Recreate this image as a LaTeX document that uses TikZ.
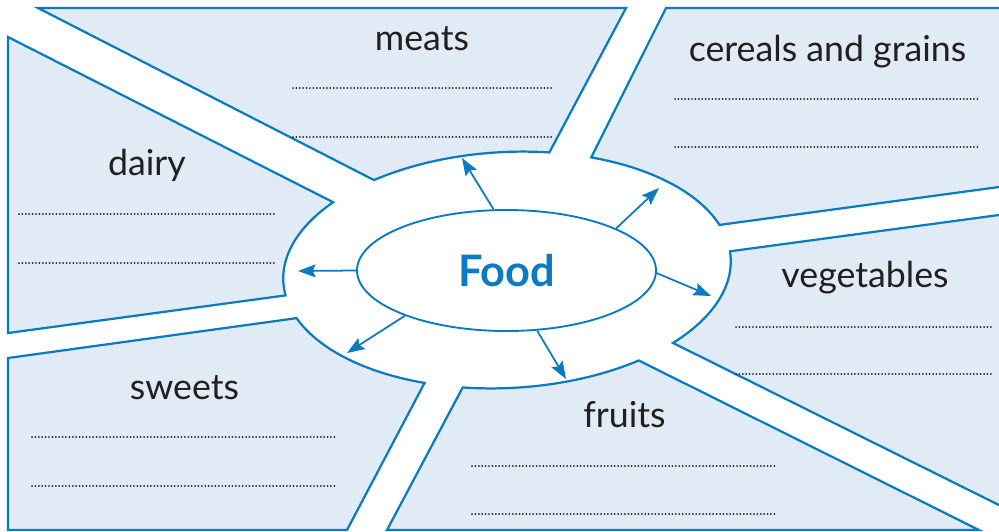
\documentclass[tikz,border=0pt]{standalone}
\usepackage{fontspec}
\setmainfont{Lato}
\usetikzlibrary{arrows.meta,shapes.geometric}
\definecolor{foodblue}{RGB}{10,122,195}
\definecolor{panelblue}{RGB}{225,235,246}
\definecolor{inkgrey}{RGB}{35,31,32}
\def\groupsize{\fontsize{30.5}{34}\selectfont}
% outer ring: centre, radii, tilt (cos, sin of 3 degrees)
\def\rcx{507}\def\rcy{270}\def\rra{224}\def\rrb{118}\def\rcp{0.99863}\def\rsp{0.05234}
\def\ringx#1{\rcx+\rra*cos(#1)*\rcp+\rrb*sin(#1)*\rsp}
\def\ringy#1{\rcy-\rra*cos(#1)*\rsp+\rrb*sin(#1)*\rcp}
\tikzset{
	panel/.style={fill=panelblue, draw=foodblue, line width=1.9pt, line join=miter},
	dotline/.style={draw=inkgrey, line width=1.7pt, line cap=round, dash pattern=on 0pt off 2.9pt},
	spoke/.style={draw=foodblue, line width=1.5pt, -{Stealth[length=15pt,width=11pt,inset=2.5pt]}},
	grouptext/.style={text=inkgrey, anchor=base, inner sep=0pt, font=\groupsize}
}

\begin{document}
\begin{tikzpicture}[x=0.3mm,y=-0.3mm]
			%%%%% START %%%%%
			\useasboundingbox (0,0) rectangle (999,531);
			\clip (0,0) rectangle (999,531);
			
			% panels
			\draw[panel] (38,8) -- (626,8) -- plot[domain=-77.5:-124.9, samples=30, variable=\t] ({\ringx{\t}},{\ringy{\t}}) -- cycle;
			\draw[panel] (666,8) -- (1010,8) -- (1010,185.5) -- plot[domain=-16.7:-66.3, samples=30, variable=\t] ({\ringx{\t}},{\ringy{\t}}) -- cycle;
			\draw[panel] (1010,213.5) -- (1010,510.5) -- plot[domain=43.7:-3.4, samples=30, variable=\t] ({\ringx{\t}},{\ringy{\t}}) -- cycle;
			\draw[panel] (979,530) -- (387,530) -- plot[domain=103:55.5, samples=30, variable=\t] ({\ringx{\t}},{\ringy{\t}}) -- cycle;
			\draw[panel] (347,530) -- (8,530) -- (8,358) -- plot[domain=161.7:113.2, samples=30, variable=\t] ({\ringx{\t}},{\ringy{\t}}) -- cycle;
			\draw[panel] (8,37) -- plot[domain=220.6:173.3, samples=30, variable=\t] ({\ringx{\t}},{\ringy{\t}}) -- (8,333) -- cycle;
			
			% headings
			\node[grouptext] (meats) at (422,50) {meats};
			\node[grouptext] (cereals) at (827.5,61) {cereals and grains};
			\node[grouptext] (dairy) at (147,175) {dairy};
			\node[grouptext] (vegetables) at (865,287) {vegetables};
			\node[grouptext] (sweets) at (184.5,399) {sweets};
			\node[grouptext] (fruits) at (624.5,427) {fruits};
			
			% writing lines
			\draw[dotline] (293,88) -- (552,88);
			\draw[dotline] (293,137) -- (552,137);
			\draw[dotline] (675,99) -- (980,99);
			\draw[dotline] (675,147) -- (980,147);
			\draw[dotline] (19,214) -- (277,214);
			\draw[dotline] (19,263) -- (277,263);
			\draw[dotline] (736,327) -- (993,327);
			\draw[dotline] (736,374) -- (993,374);
			\draw[dotline] (32,437) -- (337,437);
			\draw[dotline] (32,486) -- (337,486);
			\draw[dotline] (472,466) -- (777,466);
			\draw[dotline] (472,514) -- (777,514);
			
			% centre
			\node[ellipse, draw=foodblue, line width=1.6pt, minimum width=89.7mm, minimum height=36.3mm, inner sep=0pt, text=foodblue, font=\fontsize{37}{42}\selectfont\bfseries] (food) at (506.5,270.5) {Food};
			
			\coordinate (tipmeats) at (462,158);
			\coordinate (tipcereals) at (659,188);
			\coordinate (tipvegetables) at (711,296);
			\coordinate (tipfruits) at (566,379);
			\coordinate (tipsweets) at (347,353);
			\coordinate (tipdairy) at (298,271);
			
			\draw[spoke] (food.102.6) -- (tipmeats);
			\draw[spoke] (food.21.4) -- (tipcereals);
			\draw[spoke] (food.-1) -- (tipvegetables);
			\draw[spoke] (food.-63.2) -- (tipfruits);
			\draw[spoke] (food.204.6) -- (tipsweets);
			\draw[spoke] (food.180) -- (tipdairy);
			%%%%% END %%%%%
\end{tikzpicture}
\end{document}
